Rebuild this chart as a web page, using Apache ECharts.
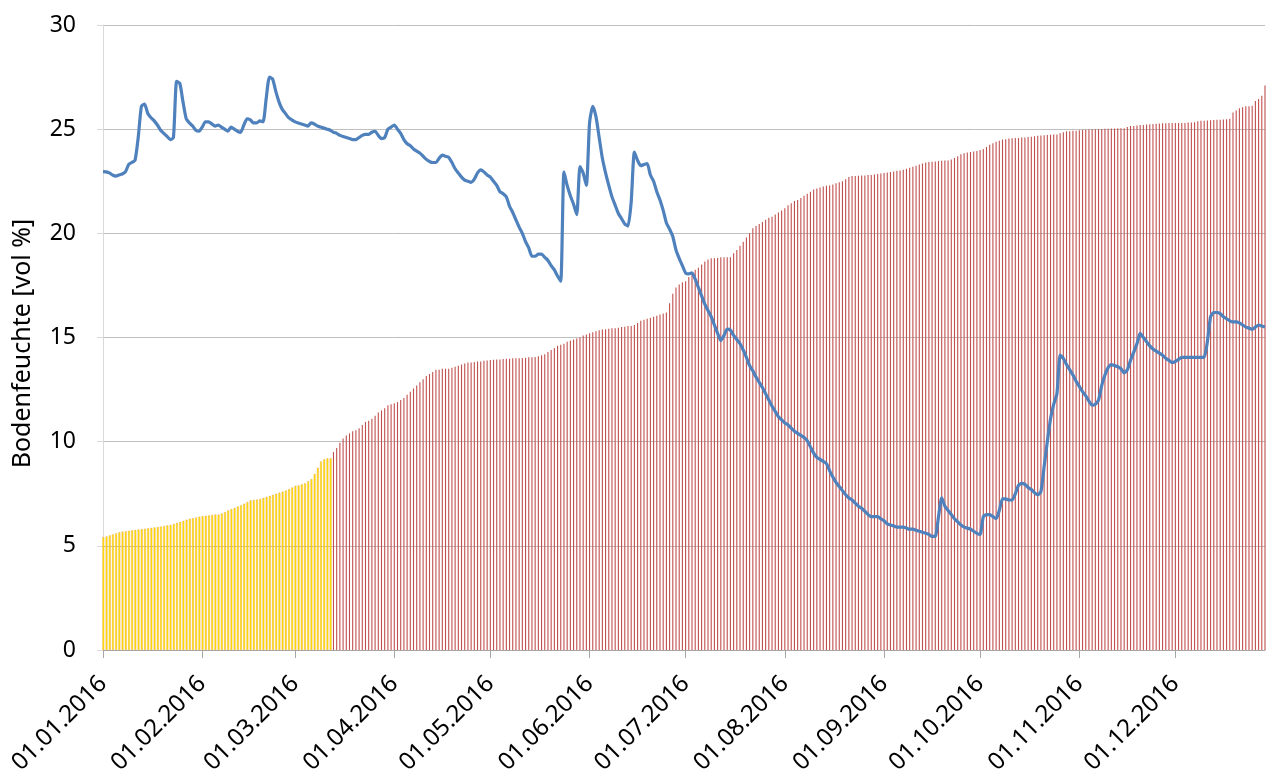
<!DOCTYPE html>
<html>
<head>
<meta charset="utf-8">
<script src="https://cdn.jsdelivr.net/npm/echarts@6/dist/echarts.min.js"></script>
<style>
html,body{margin:0;padding:0;background:#fff;}
#chart{width:1266px;height:782px;}
</style>
</head>
<body>
<div id="chart"></div>
<script>
// Start date and number of daily values (01.01.2016 .. 29.12.2016)
var startYear = 2016;
var dayCount = 364;

// Soil moisture [vol %], daily
var soilMoisture = [
  22.96,22.95,22.9,22.8,22.75,22.8,22.85,22.95,23.3,23.4,
  23.5,24.6,26.1,26.2,25.75,25.55,25.4,25.2,24.95,24.8,
  24.65,24.5,24.6,27.3,27.2,26.3,25.5,25.3,25.15,24.95,
  24.9,25.1,25.35,25.35,25.25,25.15,25.2,25.1,25.0,24.9,
  25.1,25.0,24.9,24.85,25.2,25.5,25.45,25.3,25.3,25.4,
  25.35,26.5,27.5,27.4,26.8,26.3,25.95,25.75,25.55,25.45,
  25.35,25.3,25.25,25.2,25.15,25.3,25.25,25.15,25.1,25.05,
  25.0,24.95,24.85,24.8,24.7,24.65,24.6,24.55,24.5,24.5,
  24.6,24.7,24.75,24.75,24.85,24.9,24.7,24.55,24.6,25.0,
  25.1,25.2,25.0,24.8,24.5,24.3,24.2,24.05,23.95,23.85,
  23.7,23.55,23.45,23.4,23.4,23.6,23.75,23.7,23.65,23.4,
  23.1,22.9,22.7,22.55,22.5,22.45,22.6,22.9,23.05,22.95,
  22.8,22.7,22.5,22.3,22.0,21.9,21.75,21.3,21.0,20.65,
  20.3,20.0,19.6,19.3,18.9,18.9,19.0,19.0,18.85,18.7,
  18.45,18.25,17.95,17.7,22.95,22.3,21.8,21.4,20.9,23.2,
  22.9,22.3,25.3,26.1,25.6,24.6,23.6,22.9,22.3,21.75,
  21.35,20.95,20.7,20.45,20.35,21.5,23.9,23.5,23.25,23.3,
  23.35,22.8,22.5,22.0,21.6,21.1,20.5,20.2,19.85,19.2,
  18.8,18.45,18.1,18.05,18.1,17.8,17.4,17.0,16.6,16.3,
  16.0,15.6,15.2,14.85,15.1,15.4,15.35,15.1,14.9,14.7,
  14.4,14.05,13.65,13.4,13.1,12.85,12.6,12.3,12.0,11.7,
  11.45,11.2,11.05,10.9,10.8,10.65,10.5,10.4,10.3,10.2,
  10.05,9.75,9.45,9.25,9.15,9.05,8.95,8.6,8.3,8.05,
  7.85,7.65,7.45,7.3,7.2,7.05,6.9,6.8,6.65,6.5,
  6.4,6.4,6.4,6.3,6.2,6.05,6.0,5.95,5.9,5.9,
  5.9,5.85,5.8,5.8,5.75,5.7,5.65,5.6,5.55,5.45,
  5.45,6.4,7.3,6.9,6.7,6.5,6.3,6.15,6.0,5.9,
  5.85,5.8,5.7,5.6,5.55,6.4,6.5,6.5,6.4,6.3,
  6.7,7.25,7.25,7.2,7.2,7.5,7.9,8.0,7.95,7.8,
  7.7,7.55,7.45,7.6,8.8,10.0,11.1,11.8,12.3,14.15,
  14.0,13.7,13.45,13.2,12.9,12.65,12.4,12.2,11.95,11.75,
  11.8,12.0,12.7,13.2,13.55,13.7,13.65,13.6,13.5,13.3,
  13.45,13.9,14.3,14.7,15.2,15.0,14.8,14.6,14.45,14.35,
  14.25,14.15,14.0,13.9,13.8,13.85,13.95,14.05,14.05,14.05,
  14.05,14.05,14.05,14.05,14.05,14.8,16.0,16.2,16.2,16.15,
  16.0,15.9,15.8,15.75,15.75,15.7,15.6,15.5,15.45,15.4,
  15.5,15.6,15.55,15.5
];

// Cumulative bar values, daily
var barValues = [
  5.42,5.45,5.5,5.55,5.6,5.65,5.68,5.7,5.72,5.74,
  5.76,5.78,5.8,5.82,5.84,5.86,5.88,5.9,5.92,5.95,
  5.98,6.0,6.05,6.1,6.15,6.2,6.25,6.3,6.33,6.36,
  6.4,6.42,6.44,6.46,6.48,6.5,6.5,6.55,6.62,6.7,
  6.76,6.82,6.88,6.95,7.02,7.1,7.18,7.2,7.22,7.25,
  7.3,7.35,7.4,7.45,7.5,7.55,7.6,7.65,7.72,7.8,
  7.88,7.9,7.95,8.0,8.1,8.2,8.45,8.75,9.05,9.15,
  9.2,9.2,9.5,9.7,9.95,10.15,10.3,10.4,10.5,10.55,
  10.65,10.8,10.95,11.0,11.1,11.25,11.4,11.5,11.6,11.75,
  11.8,11.85,11.9,12.0,12.1,12.25,12.4,12.55,12.7,12.85,
  13.0,13.15,13.25,13.35,13.45,13.45,13.5,13.5,13.5,13.55,
  13.6,13.65,13.7,13.75,13.8,13.8,13.82,13.85,13.85,13.88,
  13.9,13.92,13.93,13.95,13.95,13.97,13.98,13.98,14.0,14.0,
  14.0,14.02,14.03,14.05,14.05,14.07,14.1,14.15,14.2,14.3,
  14.4,14.5,14.6,14.65,14.7,14.8,14.85,14.9,14.95,15.0,
  15.1,15.15,15.2,15.25,15.3,15.35,15.38,15.4,15.42,15.44,
  15.45,15.47,15.5,15.52,15.55,15.55,15.6,15.7,15.8,15.85,
  15.9,15.95,16.0,16.05,16.1,16.15,16.2,16.65,17.1,17.4,
  17.55,17.65,17.7,17.9,18.1,18.25,18.35,18.5,18.65,18.75,
  18.8,18.8,18.82,18.85,18.85,18.85,18.85,19.05,19.2,19.4,
  19.6,19.8,20.0,20.25,20.35,20.45,20.55,20.65,20.75,20.8,
  20.9,21.0,21.1,21.2,21.35,21.45,21.55,21.6,21.7,21.8,
  21.9,22.0,22.1,22.15,22.2,22.25,22.28,22.3,22.35,22.4,
  22.45,22.5,22.6,22.7,22.75,22.75,22.77,22.78,22.78,22.8,
  22.8,22.82,22.85,22.87,22.9,22.92,22.95,22.97,23.0,23.02,
  23.05,23.1,23.15,23.2,23.25,23.3,23.35,23.4,23.42,23.44,
  23.45,23.47,23.48,23.5,23.5,23.55,23.62,23.7,23.8,23.85,
  23.88,23.9,23.93,23.95,24.0,24.05,24.15,24.25,24.32,24.4,
  24.45,24.5,24.52,24.55,24.57,24.58,24.58,24.6,24.6,24.62,
  24.64,24.66,24.68,24.7,24.71,24.72,24.73,24.74,24.75,24.8,
  24.85,24.9,24.9,24.92,24.93,24.95,24.96,24.97,24.98,25.0,
  25.0,25.0,25.01,25.02,25.02,25.03,25.03,25.04,25.05,25.05,
  25.1,25.15,25.15,25.18,25.2,25.2,25.22,25.24,25.25,25.26,
  25.27,25.28,25.29,25.3,25.3,25.3,25.3,25.3,25.3,25.32,
  25.32,25.33,25.38,25.4,25.4,25.42,25.43,25.44,25.45,25.45,
  25.47,25.48,25.5,25.8,25.9,26.0,26.05,26.1,26.1,26.12,
  26.35,26.45,26.6,27.1
];

// Number of leading days drawn in yellow
var yellowDays = 72;

// Y axis
var yMin = 0, yMax = 30, yStep = 5;
var yAxisTitle = 'Bodenfeuchte [vol %]';

function pad(n){ return (n < 10 ? '0' : '') + n; }
var categories = [];
for (var i = 0; i < dayCount; i++) {
  var dt = new Date(startYear, 0, 1 + i);
  categories.push(pad(dt.getDate()) + '.' + pad(dt.getMonth() + 1) + '.' + dt.getFullYear());
}
function isMonthStart(idx, val){ return categories[idx].slice(0, 3) === '01.'; }

var yellowData = barValues.map(function(v, i){ return i < yellowDays ? v : '-'; });
var redData = barValues.map(function(v, i){ return i < yellowDays ? '-' : v; });

var chart = echarts.init(document.getElementById('chart'), null, {renderer: 'canvas'});
chart.setOption({
  animation: false,
  backgroundColor: '#ffffff',
  grid: { left: 103, right: 1, top: 25, bottom: 132, containLabel: false },
  xAxis: {
    type: 'category',
    data: categories,
    boundaryGap: false,
    axisLine: { show: true, lineStyle: { color: '#A6A6A6', width: 1 } },
    axisTick: { show: true, interval: isMonthStart, length: 8, lineStyle: { color: '#A6A6A6' } },
    axisLabel: {
      interval: isMonthStart,
      rotate: 45,
      margin: 30,
      color: '#000',
      fontFamily: 'Noto Sans',
      fontSize: 24
    },
    splitLine: { show: false }
  },
  yAxis: {
    type: 'value',
    min: yMin, max: yMax, interval: yStep,
    name: yAxisTitle,
    nameLocation: 'middle',
    nameRotate: 90,
    nameGap: 68,
    nameTextStyle: { color: '#000', fontFamily: 'Noto Sans', fontSize: 25, padding: [0, 12, 0, 0] },
    axisLine: { show: true, lineStyle: { color: '#D9D9D9', width: 1 } },
    axisTick: { show: true, length: 6, lineStyle: { color: '#D9D9D9' } },
    axisLabel: { color: '#000', fontFamily: 'Noto Sans', fontSize: 23, margin: 27 },
    splitLine: { show: true, lineStyle: { color: '#BFBFBF', width: 1 } }
  },
  series: [
    {
      type: 'bar',
      data: yellowData,
      barWidth: 1.8,
      barGap: '-100%',
      itemStyle: { color: '#FFEA00', borderColor: '#E8903A', borderWidth: 0.35 },
      z: 2
    },
    {
      type: 'bar',
      data: redData,
      barWidth: 1.1,
      barGap: '-100%',
      itemStyle: { color: '#C0504D' },
      z: 2
    },
    {
      type: 'line',
      data: soilMoisture,
      showSymbol: false,
      symbol: 'none',
      smooth: 0.2,
      lineStyle: { color: '#4F81BD', width: 3.2 },
      z: 3
    }
  ]
});
</script>
</body>
</html>
